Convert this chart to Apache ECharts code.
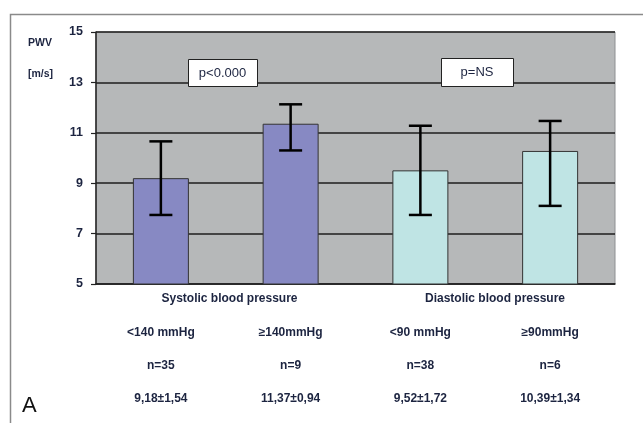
<!DOCTYPE html>
<html><head><meta charset="utf-8">
<script src="https://cdn.jsdelivr.net/npm/echarts@6/dist/echarts.min.js"></script>
<style>html,body{margin:0;padding:0;background:#fff}#c{width:643px;height:423px}</style>
</head><body><div id="c"></div>
<script>
const categories = ['<140 mmHg', '≥140mmHg', '<90 mmHg', '≥90mmHg'];
const nLabels = ['n=35', 'n=9', 'n=38', 'n=6'];
const statLabels = ['9,18±1,54', '11,37±0,94', '9,52±1,72', '10,39±1,34'];
const means = [9.2, 11.36, 9.51, 10.28];
const errLow = [7.74, 10.3, 7.74, 8.1];
const errHigh = [10.66, 12.13, 11.28, 11.47];
const barColors = ['#8789c3', '#8789c3', '#bfe4e4', '#bfe4e4'];
const groupLabels = ['Systolic blood pressure', 'Diastolic blood pressure'];
const pLabels = ['p<0.000', 'p=NS'];

const txt = '#1c2440';
const ff = 'Liberation Sans';
const chart = echarts.init(document.getElementById('c'), null, {renderer: 'canvas'});
const labelsByCat = {};
categories.forEach((c, i) => labelsByCat[c] = c + '\n' + nLabels[i] + '\n' + statLabels[i]);

chart.setOption({
  animation: false,
  grid: {left: 96, top: 32, right: 28, bottom: 139, show: true, backgroundColor: '#b6b8b9', borderColor: '#8e9092', borderWidth: 1},
  xAxis: {
    type: 'category', data: categories,
    axisLine: {lineStyle: {color: '#222', width: 1.5}},
    axisTick: {show: false},
    axisLabel: {
      margin: 32, lineHeight: 33, color: txt, fontFamily: ff, fontWeight: 'bold', fontSize: 12,
      formatter: v => labelsByCat[v]
    }
  },
  yAxis: {
    type: 'value', min: 5, max: 15, interval: 2,
    axisLine: {show: true, lineStyle: {color: '#222', width: 1.5}},
    axisTick: {show: true, length: 5, lineStyle: {color: '#222', width: 1.2}},
    axisLabel: {margin: 13, color: txt, fontFamily: ff, fontWeight: 'bold', fontSize: 12.5},
    splitLine: {lineStyle: {color: '#1e1e1e', width: 1.5}}
  },
  series: [
    {
      type: 'bar', barWidth: 56,
      data: means.map((v, i) => ({value: v, itemStyle: {color: barColors[i]}})),
      itemStyle: {borderColor: '#333', borderWidth: 1}
    },
    {
      type: 'custom', z: 10,
      data: means.map((v, i) => [i, errLow[i], errHigh[i]]),
      renderItem: (params, api) => {
        const lo = api.coord([api.value(0), api.value(1)]);
        const hi = api.coord([api.value(0), api.value(2)]);
        const hw = 11.5;
        const st = {stroke: '#000', lineWidth: 2.5};
        return {type: 'group', children: [
          {type: 'line', shape: {x1: hi[0], y1: hi[1], x2: lo[0], y2: lo[1]}, style: st},
          {type: 'line', shape: {x1: hi[0]-hw, y1: hi[1], x2: hi[0]+hw, y2: hi[1]}, style: st},
          {type: 'line', shape: {x1: lo[0]-hw, y1: lo[1], x2: lo[0]+hw, y2: lo[1]}, style: st}
        ]};
      }
    }
  ],
  graphic: [
    {type: 'rect', left: 8, top: 12, shape: {width: 700, height: 500}, style: {fill: 'none', stroke: '#8a8a8a', lineWidth: 1.5}, silent: true, z: -10},
    {type: 'text', left: 28, top: 38, style: {text: 'PWV', fill: txt, font: 'bold 10.5px "Liberation Sans"'}},
    {type: 'text', left: 28, top: 69, style: {text: '[m/s]', fill: txt, font: 'bold 10.5px "Liberation Sans"'}},
    {type: 'rect', left: 188, top: 59, z: 20, shape: {width: 69, height: 27}, style: {fill: '#fff', stroke: '#222', lineWidth: 1}},
    {type: 'text', x: 222.5, y: 73, z: 21, style: {text: pLabels[0], fill: txt, font: '13px "Liberation Sans"', align: 'center', verticalAlign: 'middle'}},
    {type: 'rect', left: 441, top: 58, z: 20, shape: {width: 72, height: 28}, style: {fill: '#fff', stroke: '#222', lineWidth: 1}},
    {type: 'text', x: 477, y: 72.5, z: 21, style: {text: pLabels[1], fill: txt, font: '13px "Liberation Sans"', align: 'center', verticalAlign: 'middle'}},
    {type: 'text', x: 229.5, y: 299, style: {text: groupLabels[0], fill: txt, font: 'bold 12px "Liberation Sans"', align: 'center', verticalAlign: 'middle'}},
    {type: 'text', x: 495, y: 299, style: {text: groupLabels[1], fill: txt, font: 'bold 12px "Liberation Sans"', align: 'center', verticalAlign: 'middle'}},
    {type: 'text', left: 22, top: 395, style: {text: 'A', fill: '#111', font: '22px "Liberation Sans"'}}
  ]
});
</script></body></html>
